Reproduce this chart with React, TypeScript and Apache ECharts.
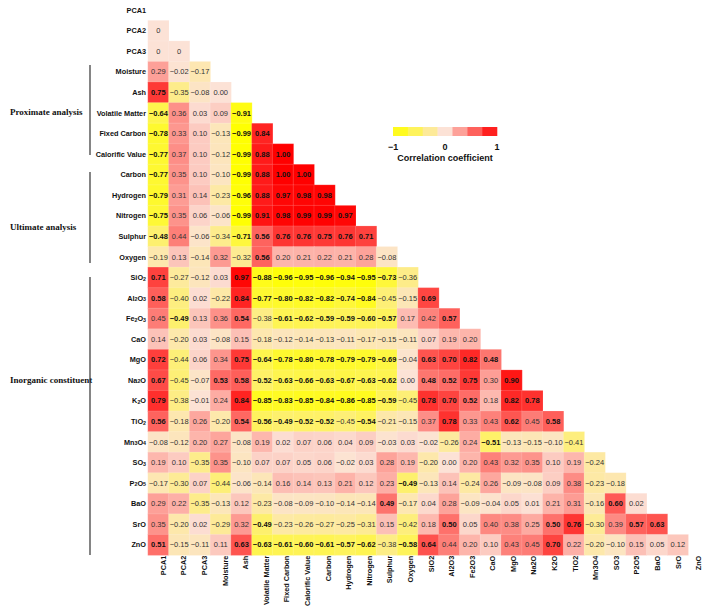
import React, { useEffect, useRef } from 'react';
import * as echarts from 'echarts';

const colLabels = ['PCA1', 'PCA2', 'PCA3', 'Moisture', 'Ash', 'Volatile Matter', 'Fixed Carbon', 'Calorific Value', 'Carbon', 'Hydrogen', 'Nitrogen', 'Sulphur', 'Oxygen', 'SiO2', 'Al2O3', 'Fe2O3', 'CaO', 'MgO', 'Na2O', 'K2O', 'TiO2', 'Mn3O4', 'SO3', 'P2O5', 'BaO', 'SrO', 'ZnO'];
const rowLabels = ['PCA1', 'PCA2', 'PCA3', 'Moisture', 'Ash', 'Volatile Matter', 'Fixed Carbon', 'Calorific Value', 'Carbon', 'Hydrogen', 'Nitrogen', 'Sulphur', 'Oxygen', 'SiO2', 'Al2O3', 'Fe2O3', 'CaO', 'MgO', 'Na2O', 'K2O', 'TiO2', 'Mn3O4', 'SO3', 'P2O5', 'BaO', 'SrO', 'ZnO'];

const rPCA1: number[] = [];
const rPCA2 = [0];
const rPCA3 = [0, 0];
const rMoisture = [0.29, -0.02, -0.17];
const rAsh = [0.75, -0.35, -0.08, 0.00];
const rVolatile = [-0.64, 0.36, 0.03, 0.09, -0.91];
const rFixedC = [-0.78, 0.33, 0.10, -0.13, -0.99, 0.84];
const rCalorific = [-0.77, 0.37, 0.10, -0.12, -0.99, 0.88, 1.00];
const rCarbon = [-0.77, 0.35, 0.10, -0.10, -0.99, 0.88, 1.00, 1.00];
const rHydrogen = [-0.79, 0.31, 0.14, -0.23, -0.96, 0.88, 0.97, 0.98, 0.98];
const rNitrogen = [-0.75, 0.35, 0.06, -0.06, -0.99, 0.91, 0.98, 0.99, 0.99, 0.97];
const rSulphur = [-0.48, 0.44, -0.06, -0.34, -0.71, 0.56, 0.76, 0.76, 0.75, 0.76, 0.71];
const rOxygen = [-0.19, 0.13, -0.14, 0.32, -0.32, 0.56, 0.20, 0.21, 0.22, 0.21, 0.28, -0.08];
const rSiO2 = [0.71, -0.27, -0.12, 0.03, 0.97, -0.88, -0.96, -0.95, -0.96, -0.94, -0.95, -0.73, -0.36];
const rAl2O3 = [0.58, -0.40, 0.02, -0.22, 0.84, -0.77, -0.80, -0.82, -0.82, -0.74, -0.84, -0.45, -0.15, 0.69];
const rFe2O3 = [0.45, -0.49, 0.13, 0.36, 0.54, -0.38, -0.61, -0.62, -0.59, -0.59, -0.60, -0.57, 0.17, 0.42, 0.57];
const rCaO = [0.14, -0.20, 0.03, -0.08, 0.15, -0.18, -0.12, -0.14, -0.13, -0.11, -0.17, -0.15, -0.11, 0.07, 0.19, 0.20];
const rMgO = [0.72, -0.44, 0.06, 0.34, 0.75, -0.64, -0.78, -0.80, -0.78, -0.79, -0.79, -0.69, -0.04, 0.63, 0.70, 0.82, 0.48];
const rNa2O = [0.67, -0.45, -0.07, 0.53, 0.58, -0.52, -0.63, -0.66, -0.63, -0.67, -0.63, -0.62, 0.00, 0.48, 0.52, 0.75, 0.30, 0.90];
const rK2O = [0.79, -0.38, -0.01, 0.24, 0.84, -0.85, -0.83, -0.85, -0.84, -0.86, -0.85, -0.59, -0.45, 0.78, 0.70, 0.52, 0.18, 0.82, 0.78];
const rTiO2 = [0.56, -0.18, 0.26, -0.20, 0.54, -0.56, -0.49, -0.52, -0.52, -0.45, -0.54, -0.21, -0.15, 0.37, 0.78, 0.33, 0.43, 0.62, 0.45, 0.58];
const rMn3O4 = [-0.08, -0.12, 0.20, 0.27, -0.08, 0.19, 0.02, 0.07, 0.06, 0.04, 0.09, -0.03, 0.03, -0.02, -0.26, 0.24, -0.51, -0.13, -0.15, -0.10, -0.41];
const rSO3 = [0.19, 0.10, -0.35, 0.35, -0.10, 0.07, 0.07, 0.05, 0.06, -0.02, 0.03, 0.28, 0.19, -0.20, 0.00, 0.20, 0.43, 0.32, 0.35, 0.10, 0.19, -0.24];
const rP2O5 = [-0.17, -0.30, 0.07, -0.44, -0.06, -0.14, 0.16, 0.14, 0.13, 0.21, 0.12, 0.23, -0.49, -0.13, 0.14, -0.24, 0.26, -0.09, -0.08, 0.09, 0.38, -0.23, -0.18];
const rBaO = [0.29, 0.22, -0.35, -0.13, 0.12, -0.23, -0.08, -0.09, -0.10, -0.14, -0.14, 0.49, -0.17, 0.04, 0.28, -0.09, -0.04, 0.05, 0.01, 0.21, 0.31, -0.16, 0.60, 0.02];
const rSrO = [0.35, -0.20, 0.02, -0.29, 0.32, -0.49, -0.23, -0.26, -0.27, -0.25, -0.31, 0.15, -0.42, 0.18, 0.50, 0.05, 0.40, 0.38, 0.25, 0.50, 0.76, -0.30, 0.39, 0.57, 0.63];
const rZnO = [0.51, -0.15, -0.11, 0.11, 0.63, -0.63, -0.61, -0.60, -0.61, -0.57, -0.62, -0.38, -0.58, 0.64, 0.44, 0.20, 0.10, 0.43, 0.45, 0.70, 0.22, -0.20, -0.10, 0.15, 0.05, 0.12];

const rows = [rPCA1, rPCA2, rPCA3, rMoisture, rAsh, rVolatile, rFixedC, rCalorific, rCarbon, rHydrogen, rNitrogen, rSulphur, rOxygen, rSiO2, rAl2O3, rFe2O3, rCaO, rMgO, rNa2O, rK2O, rTiO2, rMn3O4, rSO3, rP2O5, rBaO, rSrO, rZnO];

const legendTicks = [-1, 0, 1];
const legendSteps = 7;

const colorStops: [number, number[]][] = [
  [-1, [255, 255, 0]],
  [0, [252, 226, 214]],
  [1, [255, 0, 0]],
];

function colorAt(v: number): string {
  for (let k = 0; k < colorStops.length - 1; k++) {
    const [a, ca] = colorStops[k];
    const [b, cb] = colorStops[k + 1];
    if (v >= a && v <= b) {
      const t = (v - a) / (b - a);
      const c = ca.map((x, i) => Math.round(x + (cb[i] - x) * t));
      return `rgb(${c[0]},${c[1]},${c[2]})`;
    }
  }
  return v < -1 ? 'rgb(255,255,0)' : 'rgb(255,0,0)';
}

const SANS = '"Liberation Sans", Arial, sans-serif';
const SERIF = '"Liberation Serif", "Times New Roman", serif';

function fmt(v: number, row: number): string {
  if (row <= 2 && v === 0) return '0';
  const s = Math.abs(v).toFixed(2);
  return v < 0 ? '\u2212' + s : s;
}

function rowLabelFmt(name: string): string {
  if (name.startsWith('PCA')) return `{n|${name}}`;
  return name.replace(/(\d)|([^\d]+)/g, (m, d) => (d ? `{s|${d}}` : `{n|${m}}`));
}

export default function App() {
  const ref = useRef<HTMLDivElement>(null);
  useEffect(() => {
    if (!ref.current) return;
    const chart = echarts.init(ref.current, null, { renderer: 'svg' });

    const data: any[] = [];
    rows.forEach((vals, i) => {
      vals.forEach((v, j) => {
        const sig = Math.abs(v) >= 0.47;
        data.push({
          value: [j, i, v],
          label: { fontWeight: sig ? 'bold' : 'normal', color: sig ? '#111' : '#333' },
        });
      });
    });

    const lgLeft = 393, lgTop = 127, lgW = 104, lgH = 9;
    const graphics: any[] = [];
    for (let k = 0; k < legendSteps; k++) {
      const center = -1 + (2 * (k + 0.5)) / legendSteps;
      graphics.push({
        type: 'rect',
        shape: { x: lgLeft + (lgW * k) / legendSteps, y: lgTop, width: lgW / legendSteps + 0.3, height: lgH },
        style: { fill: colorAt(center) },
      });
    }
    legendTicks.forEach((t) => {
      graphics.push({
        type: 'text',
        x: lgLeft + ((t + 1) / 2) * lgW,
        y: 147,
        style: { text: t < 0 ? '\u2212' + Math.abs(t) : String(t), font: `bold 9px ${SANS}`, fill: '#111', textAlign: 'center', textVerticalAlign: 'middle' },
      });
    });
    graphics.push({
      type: 'text', x: lgLeft + lgW / 2, y: 158,
      style: { text: 'Correlation coefficient', font: `bold 9px ${SANS}`, fill: '#111', textAlign: 'center', textVerticalAlign: 'middle' },
    });

    const groups = [
      { name: 'Proximate analysis', ty: 112, y1: 65, y2: 155 },
      { name: 'Ultimate analysis', ty: 227, y1: 172, y2: 263 },
      { name: 'Inorganic constituent', ty: 380, y1: 277, y2: 555 },
    ];
    groups.forEach((g) => {
      graphics.push({
        type: 'text', x: 10, y: g.ty,
        style: { text: g.name, font: `bold 9px ${SERIF}`, fill: '#111', textAlign: 'left', textVerticalAlign: 'middle' },
      });
      graphics.push({
        type: 'line', shape: { x1: 90, y1: g.y1, x2: 90, y2: g.y2 },
        style: { stroke: '#333', lineWidth: 1.2 },
      });
    });

    const axisLabelStyle = { fontSize: 7.3, fontWeight: 'bold', fontFamily: SANS, color: '#111' };

    chart.setOption({
      animation: false,
      backgroundColor: '#fff',
      grid: [
        { left: 148, top: -6.4, width: 561.6, height: 561.6, containLabel: false },
        { left: 153, top: -6.4, width: 561.6, height: 561.6, containLabel: false },
      ],
      xAxis: [
        {
          type: 'category',
          gridIndex: 0,
          data: colLabels,
          axisLine: { show: false },
          axisTick: { show: false },
          splitLine: { show: false },
          axisLabel: { show: false },
        },
        {
          type: 'category',
          gridIndex: 1,
          data: colLabels,
          axisLine: { show: false },
          axisTick: { show: false },
          splitLine: { show: false },
          axisLabel: { ...axisLabelStyle, rotate: 90, margin: 2, interval: 0 },
        },
      ],
      yAxis: [
        {
          type: 'category',
          gridIndex: 0,
          data: rowLabels,
          inverse: true,
          axisLine: { show: false },
          axisTick: { show: false },
          splitLine: { show: false },
          axisLabel: {
            ...axisLabelStyle,
            margin: 2,
            interval: 0,
            formatter: (name: string) => rowLabelFmt(name),
            rich: {
              n: { ...axisLabelStyle },
              s: { fontSize: 5.3, fontWeight: 'bold', fontFamily: SANS, color: '#111', verticalAlign: 'bottom' },
            },
          },
        },
        {
          type: 'category',
          gridIndex: 1,
          data: rowLabels,
          show: false,
        },
      ],
      visualMap: {
        show: false,
        type: 'continuous',
        min: -1,
        max: 1,
        dimension: 2,
        seriesIndex: 0,
        inRange: { color: colorStops.map((s) => colorAt(s[0])) },
      },
      series: [
        {
          type: 'heatmap',
          xAxisIndex: 0,
          yAxisIndex: 0,
          data,
          itemStyle: { borderColor: 'rgba(255,255,255,0.35)', borderWidth: 0.4 },
          label: {
            show: true,
            fontSize: 7.5,
            fontFamily: SANS,
            formatter: (p: any) => fmt(p.value[2], p.value[1]),
          },
          emphasis: { disabled: true },
        },
      ],
      graphic: graphics,
    });
    return () => chart.dispose();
  }, []);
  return <div ref={ref} style={{ position: 'fixed', left: 0, top: 0, width: 709, height: 609 }} />;
}
